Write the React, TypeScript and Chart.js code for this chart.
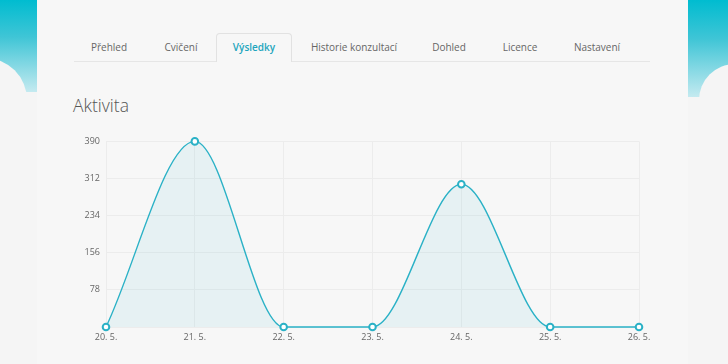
import React, { useEffect, useRef } from "react";
import { Chart, registerables } from "chart.js";

Chart.register(...registerables);

const categories = ["20. 5.", "21. 5.", "22. 5.", "23. 5.", "24. 5.", "25. 5.", "26. 5."];
const activity = [0, 390, 0, 0, 300, 0, 0];
const yMax = 390;
const yStep = 78;
const tabs = ["Přehled", "Cvičení", "Výsledky", "Historie konzultací", "Dohled", "Licence", "Nastavení"];
const tabCenters = [109, 181, 254, 354, 449, 520, 597];
const activeTab = 2;
const title = "Aktivita";

const TEAL = "#2ab1c6";
const BG = "#f5f5f5";

export default function App() {
  const ref = useRef<HTMLCanvasElement>(null);

  useEffect(() => {
    document.body.style.margin = "0";
    const ctx = ref.current!.getContext("2d")!;
    const chart = new Chart(ctx, {
      type: "line",
      data: {
        labels: categories,
        datasets: [
          {
            data: activity,
            borderColor: TEAL,
            borderWidth: 1.4,
            backgroundColor: "rgba(42,177,198,0.08)",
            fill: "origin",
            clip: false,
            cubicInterpolationMode: "monotone",
            pointRadius: 3.3,
            pointBorderWidth: 2,
            pointBackgroundColor: "#ffffff",
            pointBorderColor: TEAL,
          },
        ],
      },
      options: {
        animation: false,
        responsive: false,
        maintainAspectRatio: false,
        layout: { padding: { top: 10, right: 35, left: 0, bottom: 0 } },
        plugins: { legend: { display: false }, tooltip: { enabled: false } },
        scales: {
          x: {
            offset: false,
            grid: { color: "#ececec", drawTicks: false },
            border: { color: "#ececec" },
            ticks: {
              color: "#666",
              font: { family: "'Open Sans', sans-serif", size: 9 },
              padding: 5,
              maxRotation: 0,
              autoSkip: false,
            },
            afterFit: (s: any) => {
              s.height = 23;
            },
          },
          y: {
            min: 0,
            max: yMax,
            grid: { color: "#ececec", drawTicks: false },
            border: { color: "#ececec" },
            ticks: {
              stepSize: yStep,
              color: "#666",
              font: { family: "'Open Sans', sans-serif", size: 9 },
              padding: 6,
              callback: (v: any) => (v === 0 ? "" : String(v)),
            },
            afterFit: (s: any) => {
              s.width = 32;
            },
          },
        },
      },
    });
    return () => chart.destroy();
  }, []);

  const strip = "linear-gradient(#00bcd0 0%, #3fc5d6 40%, #c4eaf0 100%)";

  return (
    <div
      style={{
        position: "absolute",
        left: 0,
        top: 0,
        width: 728,
        height: 364,
        overflow: "hidden",
        background: BG,
        fontFamily: "'Open Sans', sans-serif",
      }}
    >
      {/* left teal strip with cloud */}
      <div style={{ position: "absolute", left: 0, top: 0, width: 37, height: 92, background: strip }} />
      <div
        style={{
          position: "absolute",
          left: -15 - 42,
          top: 100 - 42,
          width: 84,
          height: 84,
          borderRadius: "50%",
          background: BG,
        }}
      />
      {/* right teal strip with cloud */}
      <div style={{ position: "absolute", left: 688, top: 0, width: 40, height: 97, background: strip }} />
      <div
        style={{
          position: "absolute",
          left: 735 - 36,
          top: 100 - 36,
          width: 72,
          height: 72,
          borderRadius: "50%",
          background: BG,
        }}
      />
      {/* main panel */}
      <div
        style={{
          position: "absolute",
          left: 37,
          top: 0,
          width: 651,
          height: 364,
          background: "#f7f7f7",
        }}
      />
      {/* tabs */}
      <div
        style={{
          position: "absolute",
          left: 74,
          top: 61,
          width: 576,
          height: 1,
          background: "#e6e6e6",
        }}
      />
      <div
        style={{
          position: "absolute",
          left: 216,
          top: 33,
          width: 76,
          height: 29,
          border: "1px solid #e2e2e2",
          borderBottom: "none",
          borderRadius: "4px 4px 0 0",
          background: "#f7f7f7",
          boxSizing: "border-box",
        }}
      />
      {tabs.map((t, i) => (
        <div
          key={t}
          style={{
            position: "absolute",
            left: tabCenters[i],
            top: 39,
            transform: "translateX(-50%)",
            whiteSpace: "nowrap",
            fontSize: 10,
            color: i === activeTab ? "#1ea5bd" : "#666",
            fontWeight: i === activeTab ? 600 : 400,
            lineHeight: "16px",
          }}
        >
          {t}
        </div>
      ))}
      <div
        style={{
          position: "absolute",
          left: 73,
          top: 93,
          fontSize: 17.5,
          color: "#555",
          fontWeight: 300,
          lineHeight: "24px",
        }}
      >
        {title}
      </div>
      <canvas
        ref={ref}
        width={600}
        height={220}
        style={{ position: "absolute", left: 74, top: 130, width: 600, height: 220 }}
      />
    </div>
  );
}
